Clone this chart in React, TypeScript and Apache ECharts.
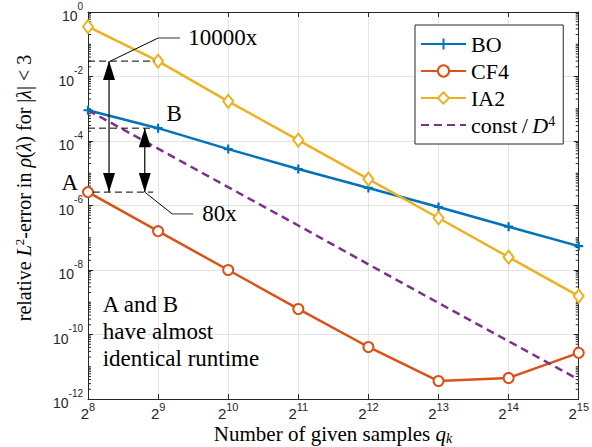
import React, { useEffect, useRef } from "react";
import * as echarts from "echarts";

// ---- data ----
const xExponents = [8, 9, 10, 11, 12, 13, 14, 15];
const boValues = [9e-4, 2.5e-4, 5.6e-5, 1.35e-5, 3.5e-6, 9e-7, 2.2e-7, 5.5e-8];
const cf4Values = [2.6e-6, 1.6e-7, 1e-8, 6.2e-10, 4.1e-11, 3.6e-12, 4.5e-12, 2.7e-11];
const ia2Values = [0.35, 3e-2, 1.7e-3, 1.07e-4, 6.6e-6, 4.1e-7, 2.5e-8, 1.55e-9];
const refValues = [9e-4, 5.8e-5, 3.7e-6, 2.4e-7, 1.5e-8, 9.5e-10, 6.2e-11, 4e-12];
const seriesNames = ["BO", "CF4", "IA2", "const"];
const yMinExp = -12;
const yMaxExp = 0;

const SERIF = '"Liberation Serif", "Times New Roman", serif';
const SANS = '"Liberation Sans", Arial, Helvetica, sans-serif';
const AXIS = "#262626";
const GRID = "#e3e3e3";

const C_BO = "#0072BD";
const C_CF = "#D95319";
const C_IA = "#EDB120";
const C_REF = "#7E2F8E";

const pairs = (vals: number[]) => xExponents.map((x, i) => [x, vals[i]]);

// minor ticks of the log axis (every 1..9 x 10^e that is not a labelled major)
const minorTickValues: number[] = [];
for (let e = yMinExp; e < yMaxExp; e++) {
  for (let k = 1; k <= 9; k++) {
    if (k === 1 && e % 2 === 0) continue;
    minorTickValues.push(k * Math.pow(10, e));
  }
}

export default function App() {
  const ref = useRef<HTMLDivElement>(null);
  useEffect(() => {
    document.body.style.margin = "0";
    const chart = echarts.init(ref.current!, null, { renderer: "svg" });

    const serifRich = {
      r: { fontFamily: SERIF, fontSize: 22, color: "#000", lineHeight: 22 },
      i: { fontFamily: SERIF, fontSize: 22, fontStyle: "italic", color: "#000", lineHeight: 22 },
      u: { fontFamily: SERIF, fontSize: 14, color: "#000", lineHeight: 12, verticalAlign: "top" },
    };

    const annotRender = (params: any, api: any) => {
      const ia = ia2Values[1];
      const bo = boValues[1];
      const cf = cf4Values[0];
      const p = (x: number, y: number) => api.coord([x, y]);
      const dashed = (a: number[], b: number[]) => ({
        type: "line",
        shape: { x1: a[0], y1: a[1], x2: b[0], y2: b[1] },
        style: { stroke: "#000", lineWidth: 1, lineDash: [7, 4] },
      });
      const solid = (a: number[], b: number[], color = "#000", w = 1) => ({
        type: "line",
        shape: { x1: a[0], y1: a[1], x2: b[0], y2: b[1] },
        style: { stroke: color, lineWidth: w },
      });
      const head = (tip: number[], dir: number) => ({
        type: "polygon",
        shape: {
          points: [
            [tip[0], tip[1]],
            [tip[0] - 6, tip[1] + dir * 19],
            [tip[0] + 6, tip[1] + dir * 19],
          ],
        },
        style: { fill: "#000" },
      });
      const doubleArrow = (x: number, yTop: number, yBot: number) => {
        const a = p(x, yTop);
        const b = p(x, yBot);
        return [solid(a, b, "#000", 1.2), head(a, 1), head(b, -1)];
      };
      const label = (x: number, y: number, text: string, align = "left") => {
        const q = p(x, y);
        return {
          type: "text",
          x: q[0],
          y: q[1],
          style: {
            text,
            fill: "#000",
            font: `23px ${SERIF}`,
            align,
            verticalAlign: "middle",
          },
        };
      };
      const c1a = p(8.32, ia);
      const c1b = p(9.0, 0.156);
      const c1c = p(9.31, 0.156);
      const c2a = p(8.81, cf);
      const c2b = p(9.2, 5.5e-7);
      const c2c = p(9.5, 5.5e-7);
      const note = p(8.21, 2.3e-9);
      return {
        type: "group",
        children: [
          dashed(p(8, ia), p(8.95, ia)),
          dashed(p(8, bo), p(8.92, bo)),
          dashed(p(8.07, cf), p(8.93, cf)),
          ...doubleArrow(8.3, ia, cf),
          ...doubleArrow(8.81, bo, cf),
          solid(c1a, c1b),
          solid(c1b, c1c, "#7f7f7f", 1.6),
          solid(c2a, c2b),
          solid(c2b, c2c, "#7f7f7f", 1.6),
          label(9.43, 0.165, "10000x"),
          label(9.63, 5.5e-7, "80x"),
          label(7.74, 5e-6, "A", "center"),
          label(9.23, 6.9e-4, "B", "center"),
          {
            type: "text",
            x: note[0],
            y: note[1],
            style: {
              text: "A and B\nhave almost\nidentical runtime",
              fill: "#000",
              font: `23px ${SERIF}`,
              lineHeight: 27,
              align: "left",
              verticalAlign: "top",
            },
          },
        ],
      };
    };

    const minorRender = (params: any, api: any) => {
      const v = api.value(1);
      const l = api.coord([xExponents[0], v]);
      const r = api.coord([xExponents[xExponents.length - 1], v]);
      return {
        type: "group",
        children: [
          { type: "line", shape: { x1: l[0], y1: l[1], x2: l[0] + 3, y2: l[1] }, style: { stroke: AXIS, lineWidth: 1 } },
          { type: "line", shape: { x1: r[0] - 3, y1: r[1], x2: r[0], y2: r[1] }, style: { stroke: AXIS, lineWidth: 1 } },
        ],
      };
    };

    const yAxisBase = {
      type: "log",
      logBase: 10,
      min: Math.pow(10, yMinExp),
      max: Math.pow(10, yMaxExp),
      interval: 2,
      axisLine: { show: true, lineStyle: { color: AXIS, width: 1 } },
      axisTick: { show: true, inside: true, length: 5, lineStyle: { color: AXIS, width: 1 } },
    };
    const xAxisBase = {
      type: "value",
      min: xExponents[0],
      max: xExponents[xExponents.length - 1],
      interval: 1,
      axisLine: { show: true, onZero: false, lineStyle: { color: AXIS, width: 1 } },
      axisTick: { show: true, inside: true, length: 5, lineStyle: { color: AXIS, width: 1 } },
    };

    const option: any = {
      animation: false,
      backgroundColor: "#fff",
      grid: { left: 88, right: 13, top: 12, bottom: 48, containLabel: false },
      xAxis: [
        {
          ...xAxisBase,
          position: "bottom",
          splitLine: { show: true, lineStyle: { color: GRID, width: 1 } },
          axisLabel: {
            margin: 2,
            formatter: (v: number) => `{b|2}{s|${Math.round(v)}}`,
            rich: {
              b: { fontFamily: SANS, fontSize: 15, color: "#262626", lineHeight: 20, verticalAlign: "bottom" },
              s: { fontFamily: SANS, fontSize: 11, color: "#262626", lineHeight: 8, verticalAlign: "top" },
            },
          },
        },
        {
          ...xAxisBase,
          position: "top",
          splitLine: { show: false },
          axisLabel: { show: false },
        },
      ],
      yAxis: [
        {
          ...yAxisBase,
          position: "left",
          splitLine: { show: true, lineStyle: { color: GRID, width: 1 } },
          axisLabel: {
            margin: 5,
            formatter: (v: number) => `{b|10}{s|${Math.round(Math.log10(v))}}`,
            rich: {
              b: { fontFamily: SANS, fontSize: 14, color: "#262626", lineHeight: 22, verticalAlign: "bottom" },
              s: { fontFamily: SANS, fontSize: 10, color: "#262626", lineHeight: 12, verticalAlign: "top" },
            },
          },
        },
        {
          ...yAxisBase,
          position: "right",
          splitLine: { show: false },
          axisLabel: { show: false },
        },
      ],
      legend: {
        orient: "vertical",
        left: 415,
        top: 25,
        data: [
          { name: "BO" },
          { name: "CF4" },
          { name: "IA2" },
          { name: "const", itemStyle: { opacity: 0 } },
        ],
        selectedMode: false,
        itemWidth: 45,
        itemHeight: 14,
        itemGap: 5,
        padding: [8, 8, 8, 5],
        backgroundColor: "#fff",
        borderColor: AXIS,
        borderWidth: 1,
        borderRadius: 0,
        formatter: (name: string) =>
          name === seriesNames[3] ? "{r|const\u2009/\u2009}{i|D}{u|4}" : `{r|${name}}`,
        textStyle: { fontFamily: SERIF, fontSize: 22, color: "#000", rich: serifRich },
      },
      graphic: [
        {
          type: "text",
          x: 24,
          y: 188,
          rotation: Math.PI / 2,
          style: {
            text:
              "{r|relative }{i|L}{u|2}{r|-error in }{i|ρ}{r|(}{i|λ}{r|) for |}{i|λ}{r|| < 3}",
            rich: {
              r: { fontFamily: SERIF, fontSize: 20, fill: "#000", lineHeight: 22 },
              i: { fontFamily: SERIF, fontSize: 20, fontStyle: "italic", fill: "#000", lineHeight: 22 },
              u: { fontFamily: SERIF, fontSize: 13, fill: "#000", lineHeight: 12, verticalAlign: "top" },
            },
            align: "center",
            verticalAlign: "middle",
          },
        },
        {
          type: "text",
          x: 333,
          y: 434,
          style: {
            text: "{r|Number of given samples }{i|q}{d|k}",
            rich: {
              r: { fontFamily: SERIF, fontSize: 21, fill: "#000", lineHeight: 22, verticalAlign: "top" },
              i: { fontFamily: SERIF, fontSize: 21, fontStyle: "italic", fill: "#000", lineHeight: 22, verticalAlign: "top" },
              d: { fontFamily: SERIF, fontSize: 14, fontStyle: "italic", fill: "#000", lineHeight: 12, verticalAlign: "bottom" },
            },
            align: "center",
            verticalAlign: "middle",
          },
        },
      ],
      series: [
        {
          type: "custom",
          name: "minorTicks",
          xAxisIndex: 0,
          yAxisIndex: 0,
          data: minorTickValues.map((v) => [xExponents[0], v]),
          renderItem: minorRender,
          silent: true,
          z: 1,
        },
        {
          name: "BO",
          type: "line",
          data: pairs(boValues),
          symbol: "path://M5,0V10M0,5H10",
          symbolSize: 9,
          showAllSymbol: true,
          lineStyle: { color: C_BO, width: 2.5 },
          itemStyle: { color: C_BO, borderColor: C_BO, borderWidth: 2.2 },
          z: 3,
        },
        {
          name: "CF4",
          type: "line",
          data: pairs(cf4Values),
          symbol: "emptyCircle",
          symbolSize: 10,
          lineStyle: { color: C_CF, width: 2.5 },
          itemStyle: { color: C_CF, borderColor: C_CF, borderWidth: 2.2 },
          z: 3,
        },
        {
          name: "IA2",
          type: "line",
          data: pairs(ia2Values),
          symbol: "emptyDiamond",
          symbolSize: [10, 13],
          lineStyle: { color: C_IA, width: 2.5 },
          itemStyle: { color: C_IA, borderColor: C_IA, borderWidth: 2.2 },
          z: 3,
        },
        {
          name: "const",
          type: "line",
          data: pairs(refValues),
          symbol: "none",
          lineStyle: { color: C_REF, width: 2.5, type: [8, 5] },
          itemStyle: { color: C_REF },
          z: 3,
        },
        {
          type: "custom",
          name: "annotations",
          data: [[xExponents[0], 1]],
          renderItem: annotRender,
          silent: true,
          z: 4,
        },
      ],
    };

    chart.setOption(option);
    return () => chart.dispose();
  }, []);

  return (
    <div
      ref={ref}
      style={{ position: "absolute", left: 0, top: 0, width: 592, height: 447 }}
    />
  );
}
